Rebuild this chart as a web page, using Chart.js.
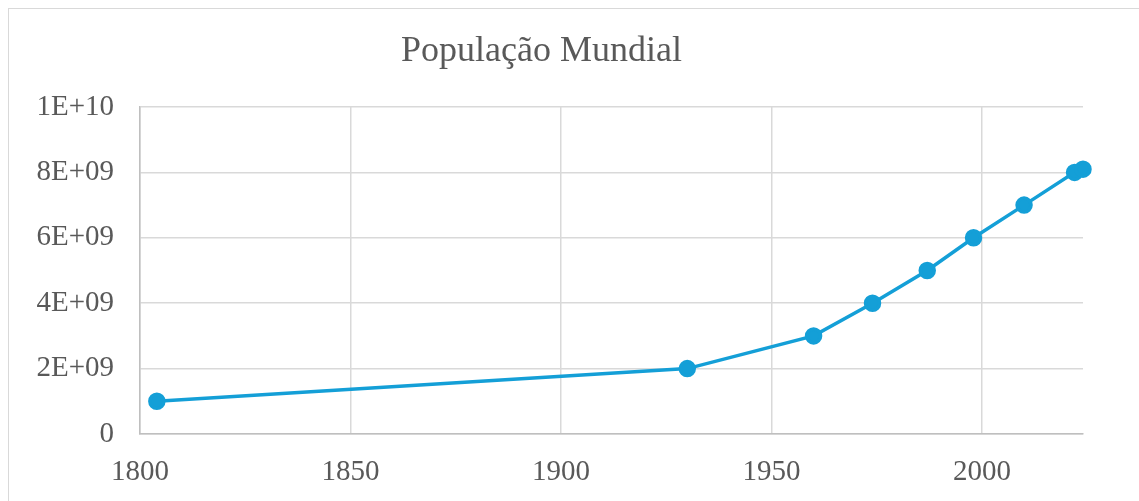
<!DOCTYPE html>
<html>
<head>
<meta charset="utf-8">
<script src="https://cdn.jsdelivr.net/npm/chart.js@4"></script>
<style>
    html, body { margin: 0; padding: 0; background: #fff; overflow: hidden; }
    #frame {
        position: absolute; left: 8px; top: 8px;
        width: 1300px; height: 700px;
        border: 1.5px solid #d9d9d9; box-sizing: border-box;
    }
    #wrap { position: absolute; left: 0; top: 0; width: 1139px; height: 501px; }
</style>
</head>
<body>
<div id="frame"></div>
<div id="wrap"><canvas id="popChart"></canvas></div>
<script>
const years = [1804, 1930, 1960, 1974, 1987, 1998, 2010, 2022, 2024];
const population = [1e9, 2e9, 3e9, 4e9, 5e9, 6e9, 7e9, 8e9, 8.1e9];
const xTicks = [1800, 1850, 1900, 1950, 2000];
const yTickLabels = ['0', '2E+09', '4E+09', '6E+09', '8E+09', '1E+10'];

(function () {
    const fontFamily = '"Liberation Serif", "DejaVu Serif", serif';
    Chart.defaults.font.family = fontFamily;
    Chart.defaults.color = '#595959';

    const points = years.map((year, i) => ({ x: year, y: population[i] }));

    new Chart(document.getElementById('popChart'), {
        type: 'scatter',
        data: {
            datasets: [{
                label: 'População',
                data: points,
                showLine: true,
                borderColor: '#149fd7',
                backgroundColor: '#149fd7',
                borderWidth: 3.5,
                pointRadius: 7,
                pointHoverRadius: 7,
                clip: false
            }]
        },
        options: {
            responsive: true,
            maintainAspectRatio: false,
            animation: false,
            layout: { padding: { left: 0, right: 56, top: 0, bottom: 0 } },
            plugins: {
                legend: { display: false },
                tooltip: { enabled: false },
                title: {
                    display: true,
                    text: 'População Mundial',
                    color: '#595959',
                    font: { size: 36, weight: 'normal' },
                    padding: { top: 30, bottom: 33.8 }
                }
            },
            scales: {
                x: {
                    type: 'linear',
                    min: 1800,
                    max: 2024,
                    afterBuildTicks: (scale) => {
                        scale.ticks = xTicks.map((v) => ({ value: v }));
                    },
                    afterFit: (scale) => { scale.height = 67; },
                    grid: { color: '#d9d9d9', lineWidth: 1.5, drawTicks: false },
                    border: { color: '#bfbfbf', width: 1.5 },
                    ticks: {
                        padding: 21,
                        font: { size: 29 },
                        callback: (value) => String(value)
                    }
                },
                y: {
                    min: 0,
                    max: 1e10,
                    afterFit: (scale) => { scale.width = 140; },
                    grid: { color: '#d9d9d9', lineWidth: 1.5, drawTicks: false },
                    border: { color: '#bfbfbf', width: 1.5 },
                    ticks: {
                        stepSize: 2e9,
                        padding: 26,
                        font: { size: 29 },
                        callback: (value, index) => yTickLabels[index]
                    }
                }
            }
        }
    });
})();
</script>
</body>
</html>
